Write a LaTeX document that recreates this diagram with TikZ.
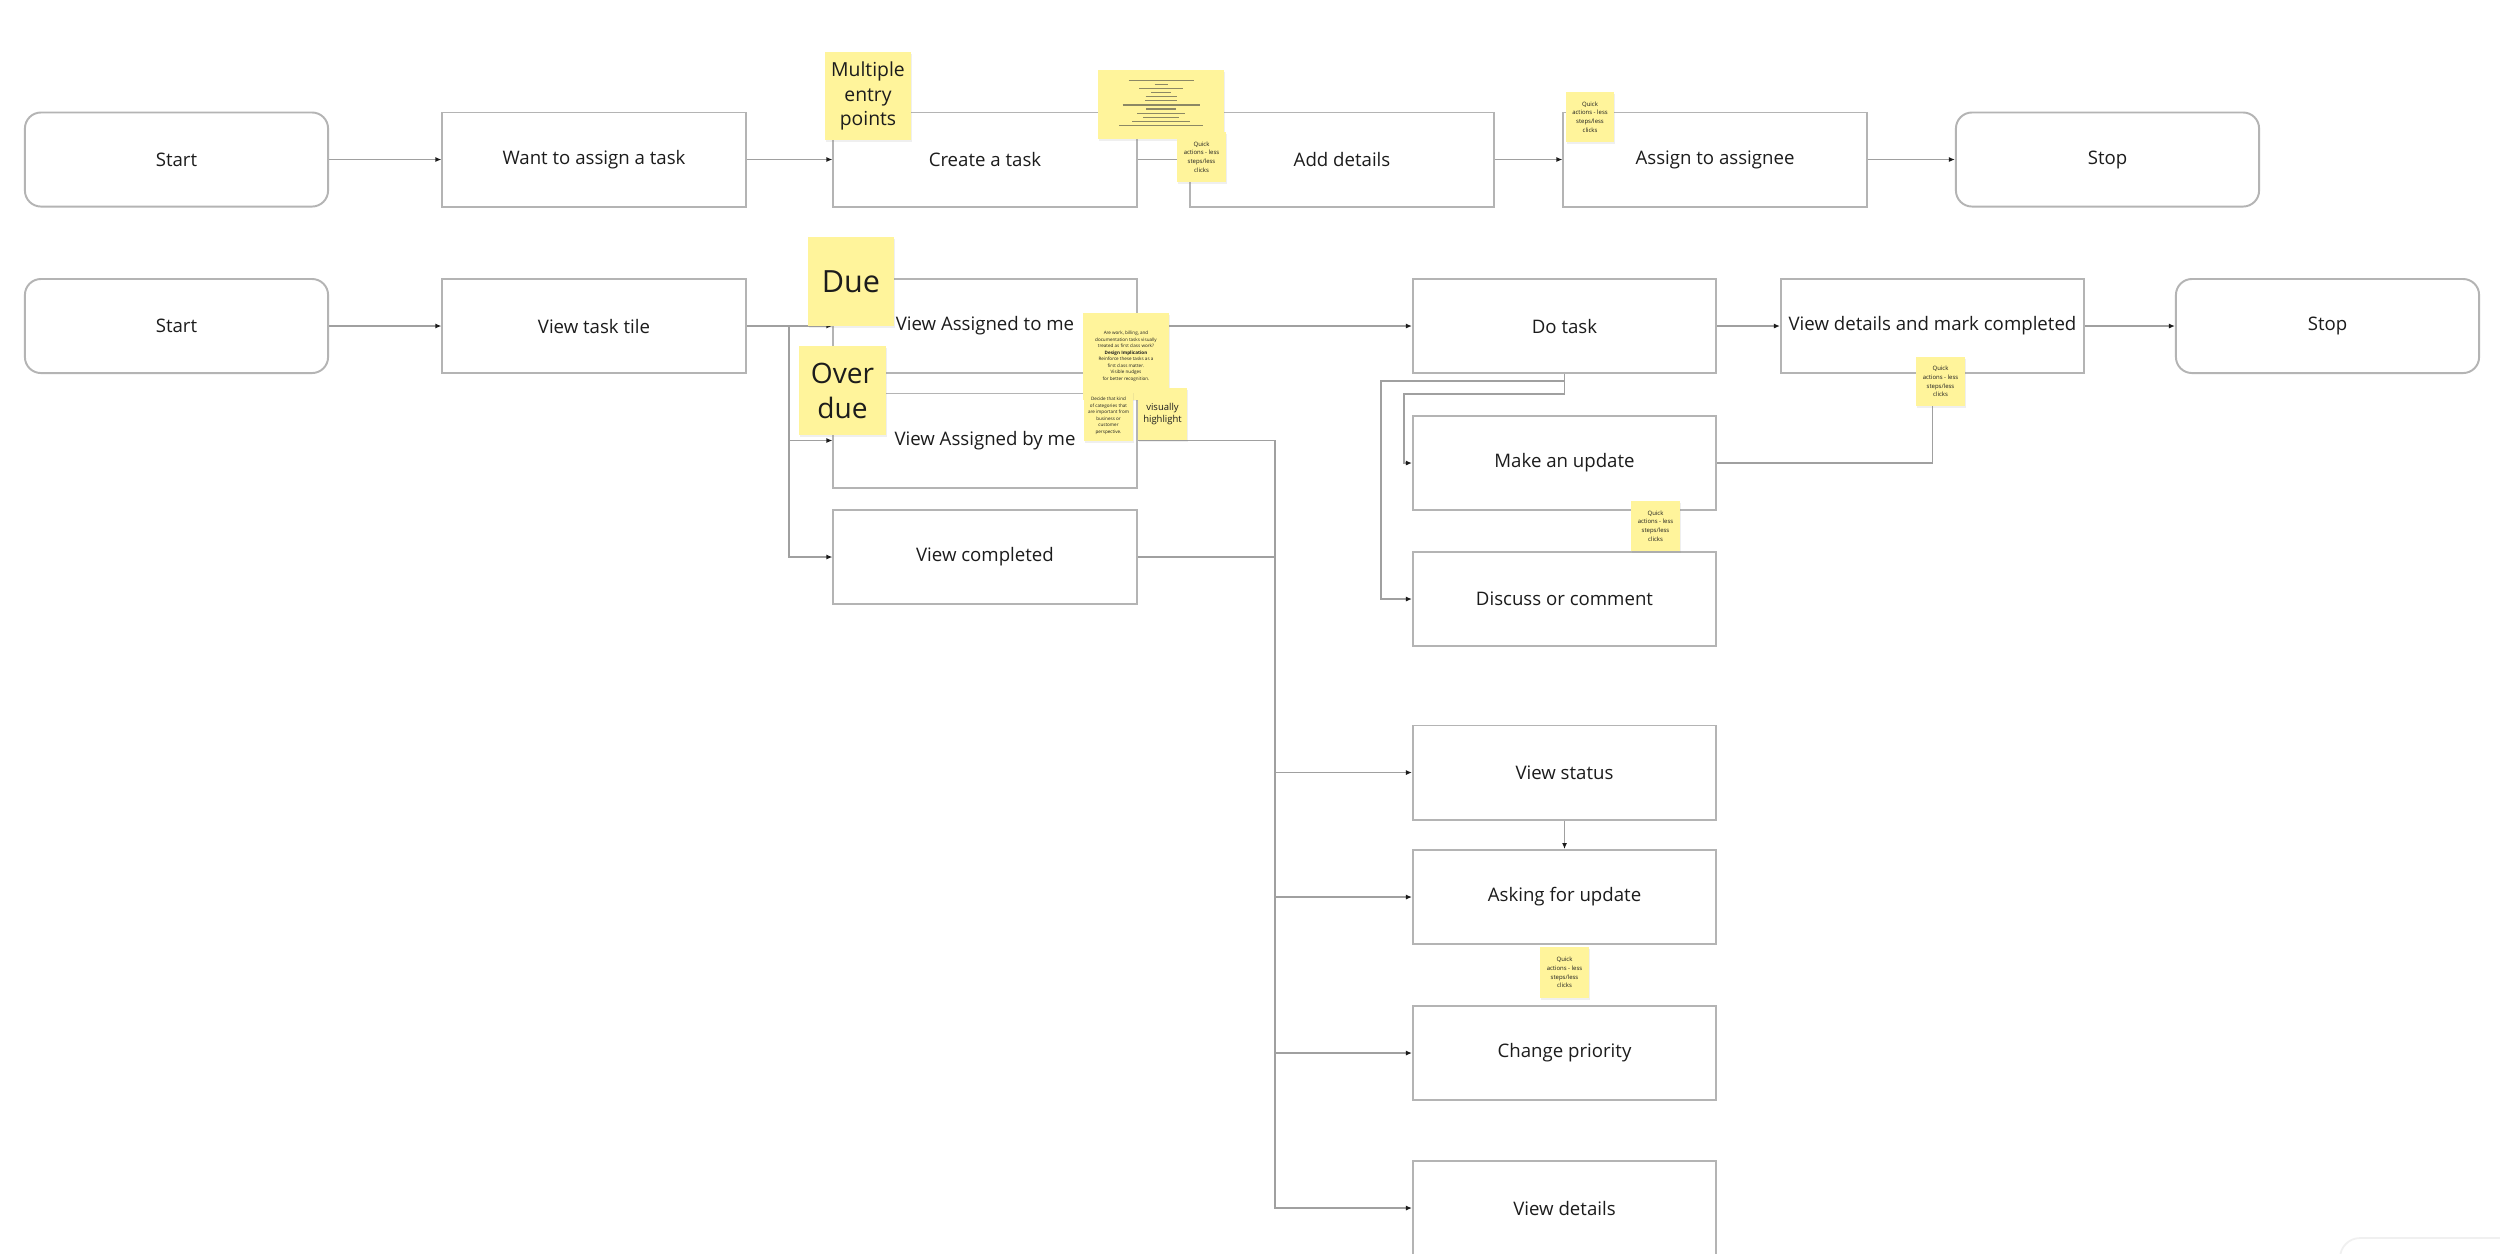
\documentclass[tikz,border=0pt]{standalone}
\usepackage{fontspec}
\setmainfont{Open Sans}
\usetikzlibrary{arrows.meta,shadows}
\definecolor{boxgray}{RGB}{180,180,180}
\definecolor{linegray}{RGB}{160,160,160}
\definecolor{ink}{RGB}{28,28,28}
\definecolor{stickyyellow}{RGB}{255,244,155}
\definecolor{scribble}{RGB}{140,136,100}
\begin{document}
\begin{tikzpicture}[x=0.01cm,y=-0.01cm,
  box/.style={draw=boxgray, line width=0.55pt, fill=white, minimum width=3.03cm, minimum height=0.94cm, inner sep=0pt, font=\fontsize{5.3}{6.4}\selectfont, text=ink},
  term/.style={box, rounded corners=0.16cm},
  conn/.style={draw=linegray, line width=0.45pt},
  arr/.style={conn, -{Latex[length=0.6mm,width=0.5mm,color=ink]}},
  sticky/.style={fill=stickyyellow, inner sep=0pt, align=center, text=ink, drop shadow={shadow xshift=0.25pt, shadow yshift=-0.5pt, opacity=0.12}},
  stk/.style n args={2}{sticky, minimum width=#1, minimum height=#2},
  qafont/.style={font=\fontsize{1.7}{2.5}\selectfont},
  tinyfont/.style={font=\fontsize{1.3}{1.85}\selectfont},
]
\useasboundingbox (0,0) rectangle (2500,1253);
\fill[white] (0,0) rectangle (2500,1253);

% faint UI element bottom right
\draw[draw=gray!12, line width=0.5pt, fill=white, rounded corners=0.2cm] (2340,1300) -- (2340,1238) -- (2560,1238) -- (2560,1300);

% ---------- row 1 ----------
\node[term] (s1) at (176.5,159.5) {Start};
\node[box] (want) at (594,159.5) {Want to assign a task};
\node[box] (create) at (985,159.5) {Create a task};
\node[box] (add) at (1342,159.5) {Add details};
\node[box] (assign) at (1715,159.5) {Assign to assignee};
\node[term] (stop1) at (2107.5,159.5) {Stop};

% ---------- row 2 ----------
\node[term] (s2) at (176.5,326) {Start};
\node[box] (tile) at (594,326) {View task tile};
\node[box] (atme) at (985,326) {View Assigned to me};
\node[box] (byme) at (985,440.5) {View Assigned by me};
\node[box] (compl) at (985,557) {View completed};
\node[box] (do) at (1564.5,326) {Do task};
\node[box] (vdmc) at (1932.5,326) {View details and mark completed};
\node[term] (stop2) at (2327.5,326) {Stop};
\node[box] (upd) at (1564.5,463) {Make an update};
\node[box] (disc) at (1564.5,599) {Discuss or comment};
\node[box] (vstat) at (1564.5,772.5) {View status};
\node[box] (ask) at (1564.5,897) {Asking for update};
\node[box] (prio) at (1564.5,1053) {Change priority};
\node[box] (vdet) at (1564.5,1208) {View details};

% ---------- connectors ----------
\draw[arr] (s1) -- (want);
\draw[arr] (want) -- (create);
\draw[arr] (create) -- (add);
\draw[arr] (add) -- (assign);
\draw[arr] (assign) -- (stop1);

\draw[arr] (s2) -- (tile);
\coordinate (j1) at (789,326);
\draw[arr] (tile.east) -- (atme.west);
\draw[arr] (j1) |- (byme.west);
\draw[arr] (j1) |- (compl.west);

\draw[arr] (atme) -- (do);
\coordinate (j2) at (1275,440.5);
\draw[arr] (byme.east) -- (j2) |- (vdet.west);
\draw[arr] (j2) |- (vstat.west);
\draw[arr] (j2) |- (ask.west);
\draw[arr] (j2) |- (prio.west);
\draw[conn] (compl.east) -- (compl.east -| j2);

\draw[arr] (do) -- (vdmc);
\draw[arr] (vdmc) -- (stop2);
\draw[arr] (do.south) |- (1381,381) |- (disc.west);
\draw[arr] (do.south) |- (1404,394) |- (upd.west);
\draw[arr] (upd.east) -| (vdmc.south);
\draw[arr] (vstat) -- (ask);

% ---------- sticky notes ----------
\node[stk={0.86cm}{0.88cm}, font=\fontsize{5.5}{7.0}\selectfont] (multi) at (868,96) {Multiple\\entry\\points};

\node[stk={1.26cm}{0.69cm}] (scrib) at (1161,104.5) {};
\foreach \yy/\hw in {80.7/32.5, 84.7/6.5, 88.7/22, 92.7/10, 96.7/15.5, 100.7/16, 105/38.5, 109/15, 113.3/24, 117.3/18, 121.3/29, 125.7/42}
  \draw[scribble, line width=0.35pt] (1161-\hw,\yy) -- (1161+\hw,\yy);

\node[stk={0.49cm}{0.50cm}, qafont] (qa1) at (1201.5,157) {Quick\\actions - less\\steps/less\\clicks};
\node[stk={0.48cm}{0.50cm}, qafont] (qa2) at (1590,117) {Quick\\actions - less\\steps/less\\clicks};

\node[stk={0.86cm}{0.89cm}, font=\fontsize{8.7}{10}\selectfont] (due) at (851,281.5) {Due};
\node[stk={0.87cm}{0.89cm}, font=\fontsize{8}{10}\selectfont] (over) at (842.5,390.5) {Over\\due};

\node[stk={0.86cm}{0.86cm}, tinyfont] (note) at (1126,356.5) {Are work, billing, and\\documentation tasks visually\\treated as first class work?\\\textbf{Design Implication}\\Reinforce these tasks as a\\first class matter.\\Visible nudges\\for better recognition.};
\node[stk={0.49cm}{0.50cm}, tinyfont] (decide) at (1108.5,416) {Decide that kind\\of categories that\\are important from\\business or\\customer\\perspective.};
\node[stk={0.49cm}{0.52cm}, font=\fontsize{2.7}{3.2}\selectfont] (vh) at (1162.5,414) {visually\\highlight};

\node[stk={0.49cm}{0.49cm}, qafont] (qa3) at (1940.5,381.5) {Quick\\actions - less\\steps/less\\clicks};
\node[stk={0.49cm}{0.50cm}, qafont] (qa4) at (1655.5,526) {Quick\\actions - less\\steps/less\\clicks};
\node[stk={0.49cm}{0.51cm}, qafont] (qa5) at (1564.5,972.5) {Quick\\actions - less\\steps/less\\clicks};
\end{tikzpicture}
\end{document}
